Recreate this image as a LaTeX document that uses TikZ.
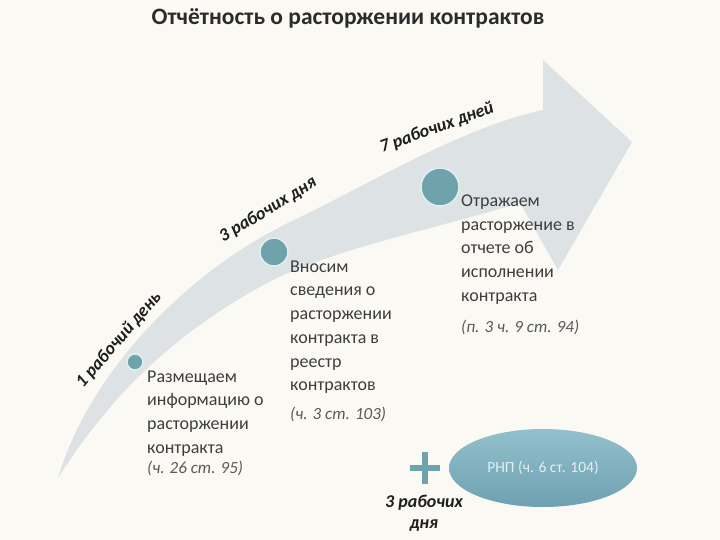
\documentclass[tikz,border=0pt]{standalone}
\usepackage{fontspec}
\setmainfont{Carlito}
\usetikzlibrary{shapes.geometric}
\definecolor{bg}{HTML}{FBF9F4}
\definecolor{bandgray}{HTML}{DDE2E5}
\definecolor{dotteal}{HTML}{6FA2AB}
\definecolor{dotrim}{HTML}{DDEFF2}
\definecolor{titletxt}{HTML}{2B2B2B}
\definecolor{bodytxt}{HTML}{3E3E3E}
\definecolor{reftxt}{HTML}{5A5A5A}
\definecolor{labtxt}{HTML}{1E1E1E}
\definecolor{ellTop}{HTML}{93C0CC}
\definecolor{ellBot}{HTML}{6EA1B1}
\definecolor{ellText}{HTML}{E4EFF2}
\definecolor{plusteal}{HTML}{6FA3AB}
\begin{document}
\begin{tikzpicture}[x=1pt,y=-1pt,
  body/.style={anchor=north west, inner sep=0pt, align=left, text=bodytxt, font=\fontsize{18}{23.7}\selectfont},
  ref/.style={anchor=west, inner sep=0pt, text=reftxt, font=\fontsize{17}{19}\selectfont\itshape},
  lab/.style={inner sep=0pt, text=labtxt, font=\fontsize{18}{21}\selectfont\bfseries\itshape},
  dot/.style={circle, fill=dotteal, draw=dotrim, line width=1.5pt, inner sep=0pt}]
\fill[bg] (0,0) rectangle (720,540);
\useasboundingbox (0,0) rectangle (720,540);

\node[font=\fontsize{23.5}{27}\selectfont\bfseries, text=titletxt] (title) at (348,18) {Отчётность о расторжении контрактов};

% curved arrow band
\fill[bandgray] (58,478) .. controls (90,370) and (190,270) .. (290,222)
  .. controls (370,184) and (460,128) .. (543,110) -- (543,60) -- (632,142) -- (558,270) -- (520,203)
  .. controls (430,230) and (330,250) .. (267,283)
  .. controls (190,325) and (120,380) .. (58,478) -- cycle;

% milestones
\node[dot, minimum size=16pt] (c1) at (135,362) {};
\node[dot, minimum size=28pt] (c2) at (274,252) {};
\node[dot, minimum size=38pt] (c3) at (440,187) {};

% period labels
\node[lab, rotate=49] (d1) at (119,340) {1 рабочий день};
\node[lab, rotate=31.5] (d3) at (268,210) {3 рабочих дня};
\node[lab, rotate=20] (d7) at (437,128) {7 рабочих дней};

% texts
\node[body] (t1) at (147,370.5) {Размещаем\\информацию о\\расторжении\\контракта};
\node[ref] (r1) at (147,468) {(ч. 26 ст. 95)};
\node[body] (t2) at (290,260.5) {Вносим\\сведения о\\расторжении\\контракта в\\реестр\\контрактов};
\node[ref] (r2) at (290,414) {(ч. 3 ст. 103)};
\node[body] (t3) at (461,194.5) {Отражаем\\расторжение в\\отчете об\\исполнении\\контракта};
\node[ref] (r3) at (461,327) {(п. 3 ч. 9 ст. 94)};

% plus and RNP
\coordinate (plus) at (425,468);
\draw[plusteal, line width=6.5pt] ([xshift=-15pt]plus) -- ([xshift=15pt]plus);
\draw[plusteal, line width=6.5pt] ([yshift=16pt]plus) -- ([yshift=-16pt]plus);
\node[lab, align=center] (d3b) at (424,513) {3 рабочих\\дня};
\node[ellipse, minimum width=188pt, minimum height=78pt, inner sep=0pt, top color=ellTop, bottom color=ellBot, text=ellText, font=\fontsize{15.5}{18}\selectfont] (rnp) at (543,468) {РНП (ч. 6 ст. 104)};
\end{tikzpicture}
\end{document}
